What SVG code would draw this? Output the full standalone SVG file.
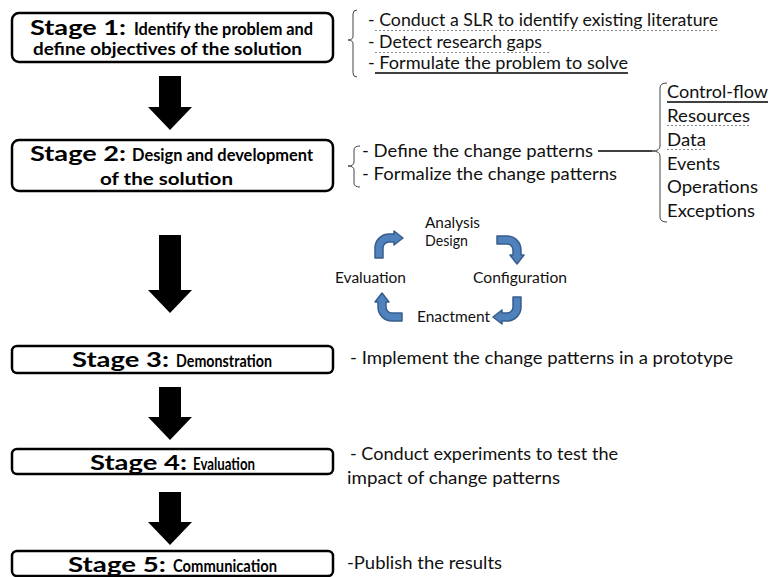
<svg xmlns="http://www.w3.org/2000/svg" width="770" height="577" viewBox="0 0 770 577">
<style>
.box{fill:#fff;stroke:#000;stroke-width:2.5}
.st{font-family:Lato,"Open Sans","Liberation Sans",sans-serif;font-weight:bold;fill:#000}
.big{font-size:20px}
.sm{font-size:16.5px}
.tx{font-family:Lato,"Open Sans","Liberation Sans",sans-serif;font-size:16.5px;fill:#111}
.cy{font-family:Lato,"Open Sans","Liberation Sans",sans-serif;font-size:14.5px;fill:#111}
.arr{fill:#000}
.brace{fill:none;stroke:#444;stroke-width:1}
.dot{fill:none;stroke:#888;stroke-width:1.2;stroke-dasharray:2 2}
.sol{fill:none;stroke:#000;stroke-width:1.5}
.bent{fill:#4F81BD;stroke:#385D8A;stroke-width:1.5;stroke-linejoin:round}
</style>
<defs>
<path id="bent" d="M-4,20 L-4,10 A14,14 0 0 1 10,-4 L15,-4 L15,-7 L24,0 L15,7 L15,4 L10,4 A6,6 0 0 0 4,10 L4,20 Z"/>
</defs>

<g id="connectors">
<path class="arr" d="M159,76 H181 V107 H192 L170,130 L148,107 H159 Z"/>
<path class="arr" d="M159,235 H181 V290 H192 L170,313 L148,290 H159 Z"/>
<path class="arr" d="M159,387 H181 V417 H192 L170,440 L148,417 H159 Z"/>
<path class="arr" d="M159,492 H181 V522 H192 L170,545 L148,522 H159 Z"/>
<path class="sol" d="M598,151 H652"/>
</g>

<g id="stage1">
<rect class="box" x="12" y="13" width="321" height="49" rx="7"/>
<text class="st big" x="30" y="35" textLength="96" lengthAdjust="spacingAndGlyphs">Stage 1:</text>
<text class="st sm" x="134" y="35" textLength="179" lengthAdjust="spacingAndGlyphs">Identify the problem and</text>
<text class="st sm" x="33" y="55" textLength="269" lengthAdjust="spacingAndGlyphs">define objectives of the solution</text>
</g>

<g id="stage1-notes">
<path class="brace" d="M357,10 Q353,10 353,14 L353,36 Q353,40 348,40 Q353,40 353,44 L353,73 Q353,77 357,77"/>
<text class="tx" x="368" y="26" textLength="350" lengthAdjust="spacingAndGlyphs">- Conduct a SLR to identify existing literature</text>
<text class="tx" x="368" y="48" textLength="174" lengthAdjust="spacingAndGlyphs">- Detect research gaps</text>
<text class="tx" x="368" y="69" textLength="260" lengthAdjust="spacingAndGlyphs">- Formulate the problem to solve</text>
<path class="dot" d="M375,30.5 H718"/>
<path class="dot" d="M375,52.5 H550"/>
<path class="sol" d="M375,73 H628"/>
</g>

<g id="stage2">
<rect class="box" x="12" y="140" width="321" height="51" rx="7"/>
<text class="st big" x="30" y="161" textLength="96" lengthAdjust="spacingAndGlyphs">Stage 2:</text>
<text class="st sm" x="132" y="161" textLength="181" lengthAdjust="spacingAndGlyphs">Design and development</text>
<text class="st sm" x="100" y="185" textLength="133" lengthAdjust="spacingAndGlyphs">of the solution</text>
</g>

<g id="stage2-notes">
<path class="brace" d="M360,146 Q354,146 354,150 L354,162 Q354,166 348,166 Q354,166 354,170 L354,183 Q354,187 360,187"/>
<text class="tx" x="362" y="157" textLength="231" lengthAdjust="spacingAndGlyphs">- Define the change patterns</text>
<text class="tx" x="362" y="180" textLength="255" lengthAdjust="spacingAndGlyphs">- Formalize the change patterns</text>
</g>

<g id="pattern-types">
<path class="brace" d="M667,83 Q660,83 660,88 L660,146 Q660,151 652,151 Q660,151 660,156 L660,217 Q660,222 667,222"/>
<text class="tx" x="667" y="98" textLength="101" lengthAdjust="spacingAndGlyphs">Control-flow</text>
<path class="sol" d="M667,102 H768"/>
<text class="tx" x="667" y="122" textLength="83" lengthAdjust="spacingAndGlyphs">Resources</text>
<path class="dot" d="M667,125.5 H750"/>
<text class="tx" x="667" y="146" textLength="39" lengthAdjust="spacingAndGlyphs">Data</text>
<path class="dot" d="M667,149.5 H706"/>
<text class="tx" x="667" y="170" textLength="53" lengthAdjust="spacingAndGlyphs">Events</text>
<text class="tx" x="667" y="193" textLength="91" lengthAdjust="spacingAndGlyphs">Operations</text>
<text class="tx" x="667" y="217" textLength="88" lengthAdjust="spacingAndGlyphs">Exceptions</text>
</g>

<g id="cycle">
<use href="#bent" class="bent" transform="translate(379,238)"/>
<use href="#bent" class="bent" transform="translate(517,240) rotate(90)"/>
<use href="#bent" class="bent" transform="translate(517,317) rotate(180)"/>
<use href="#bent" class="bent" transform="translate(382,317) rotate(270)"/>
<text class="cy" x="425" y="228" textLength="55" lengthAdjust="spacingAndGlyphs">Analysis</text>
<text class="cy" x="425" y="246" textLength="43" lengthAdjust="spacingAndGlyphs">Design</text>
<text class="cy" x="335" y="283" textLength="71" lengthAdjust="spacingAndGlyphs">Evaluation</text>
<text class="cy" x="473" y="283" textLength="94" lengthAdjust="spacingAndGlyphs">Configuration</text>
<text class="cy" x="417" y="322" textLength="73" lengthAdjust="spacingAndGlyphs">Enactment</text>
</g>

<g id="stage3">
<rect class="box" x="12" y="346" width="321" height="27" rx="5"/>
<text class="st big" x="72" y="367" textLength="97" lengthAdjust="spacingAndGlyphs">Stage 3:</text>
<text class="st sm" x="176" y="367" textLength="96" lengthAdjust="spacingAndGlyphs">Demonstration</text>
</g>
<g id="stage3-notes">
<text class="tx" x="350" y="364" textLength="383" lengthAdjust="spacingAndGlyphs">- Implement the change patterns in a prototype</text>
</g>

<g id="stage4">
<rect class="box" x="12" y="449" width="321" height="25" rx="5"/>
<text class="st big" x="90" y="470" textLength="97" lengthAdjust="spacingAndGlyphs">Stage 4:</text>
<text class="st sm" x="193" y="470" textLength="62" lengthAdjust="spacingAndGlyphs">Evaluation</text>
</g>
<g id="stage4-notes">
<text class="tx" x="350" y="460" textLength="268" lengthAdjust="spacingAndGlyphs">- Conduct experiments to test the</text>
<text class="tx" x="347" y="484" textLength="213" lengthAdjust="spacingAndGlyphs">impact of change patterns</text>
</g>

<g id="stage5">
<rect class="box" x="12" y="551" width="321" height="25" rx="5"/>
<text class="st big" x="68" y="572" textLength="98" lengthAdjust="spacingAndGlyphs">Stage 5:</text>
<text class="st sm" x="173" y="572" textLength="104" lengthAdjust="spacingAndGlyphs">Communication</text>
</g>
<g id="stage5-notes">
<text class="tx" x="347" y="569" textLength="155" lengthAdjust="spacingAndGlyphs">-Publish the results</text>
</g>
</svg>
